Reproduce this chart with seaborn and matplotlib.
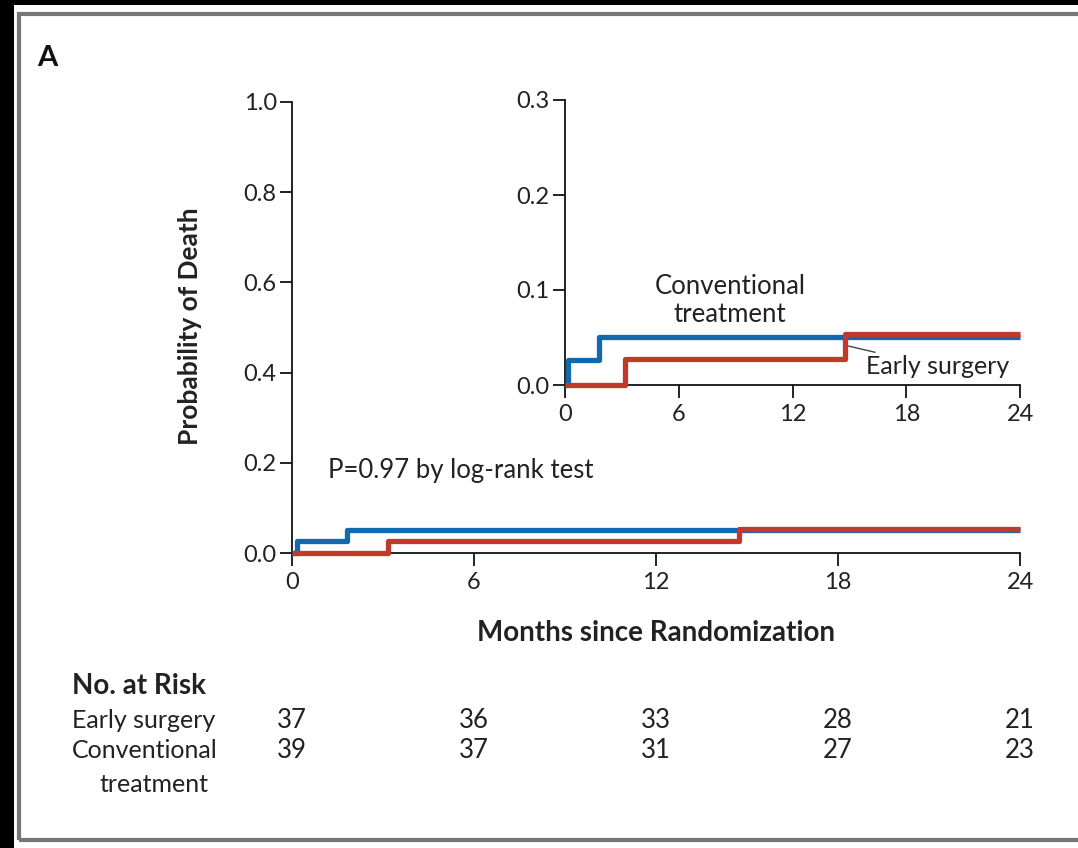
import numpy as np
import pandas as pd
import seaborn as sns
import matplotlib.pyplot as plt
from matplotlib.patches import Rectangle
from matplotlib.transforms import blended_transform_factory

sns.set_theme(style="ticks", context="paper")
plt.rcParams["font.family"] = ["Lato", "DejaVu Sans"]

# cumulative probability of death (step curves)
months_early = [0, 3.15, 14.75, 24]
prob_early = [0, 0.027, 0.054, 0.054]
months_conv = [0, 0.15, 1.8, 24]
prob_conv = [0, 0.026, 0.051, 0.051]

# numbers at risk
risk_months = [0, 6, 12, 18, 24]
risk_early = [37, 36, 33, 28, 21]
risk_conv = [39, 37, 31, 27, 23]

df = pd.concat([
    pd.DataFrame({"month": months_early, "prob": prob_early, "group": "Early surgery"}),
    pd.DataFrame({"month": months_conv, "prob": prob_conv, "group": "Conventional treatment"}),
])
palette = {"Early surgery": "#c0392b", "Conventional treatment": "#1369b0"}

W, H = 1078, 848
fig = plt.figure(figsize=(W / 100, H / 100), dpi=100, facecolor="black")
fig.patches.append(Rectangle((14 / W, 0), 1, (H - 5) / H, transform=fig.transFigure,
                             facecolor="white", edgecolor="none", zorder=-2))
fig.patches.append(Rectangle((19 / W, 8 / H), 1.1, (H - 22) / H, transform=fig.transFigure,
                             facecolor="none", edgecolor="#777777", lw=3, zorder=-1))

text_col = "#222222"


def style_axis(ax, ylim, yticks):
    ax.set_xlim(0, 24)
    ax.set_ylim(*ylim)
    ax.set_xticks([0, 6, 12, 18, 24])
    ax.set_yticks(yticks)
    ax.set_yticklabels([f"{v:.1f}" for v in yticks])
    sns.despine(ax=ax)
    ax.set_facecolor("none")
    for s in ["left", "bottom"]:
        ax.spines[s].set_linewidth(1.3)
        ax.spines[s].set_color("#111111")
    ax.tick_params(axis="both", length=9, width=1.3, color="#111111",
                   labelsize=17, labelcolor=text_col, pad=2)
    ax.tick_params(axis="x", pad=5)
    ax.set_xlabel("")
    ax.set_ylabel("")


def draw_curves(ax):
    sns.lineplot(data=df, x="month", y="prob", hue="group", palette=palette,
                 hue_order=["Conventional treatment", "Early surgery"],
                 drawstyle="steps-post", estimator=None, linewidth=3.8,
                 legend=False, ax=ax)
    for ln in ax.lines:
        ln.set_clip_on(False)
        ln.set_zorder(3)
        ln.set_solid_capstyle("butt")


# main axes
ax = fig.add_axes([292 / W, (H - 553) / H, 728 / W, 451 / H])
draw_curves(ax)
style_axis(ax, (0, 1.0), [0.0, 0.2, 0.4, 0.6, 0.8, 1.0])
ax.set_xlabel("Months since Randomization", fontsize=20, fontweight="bold",
              color=text_col)
ax.xaxis.set_label_coords(0.5, (553 - 633) / 451, transform=ax.transAxes)
ax.xaxis.label.set_va("center")
ax.set_ylabel("Probability of Death", fontsize=19, fontweight="bold", color=text_col)
ax.yaxis.set_label_coords((190 - 292) / 728, (553 - 326) / 451)
ax.yaxis.label.set_va("center")
ax.text(1.2, 0.184, "P=0.97 by log-rank test", fontsize=18.5, color=text_col, va="center")

# inset
axi = fig.add_axes([565 / W, (H - 385) / H, 455 / W, 285 / H])
draw_curves(axi)
style_axis(axi, (0, 0.3), [0.0, 0.1, 0.2, 0.3])
axi.text(8.7, 0.089, "Conventional\ntreatment", fontsize=18.5, color=text_col,
         ha="center", va="center", linespacing=1.15)
axi.annotate("Early surgery", xy=(14.95, 0.041), xytext=(15.9, 0.019),
             fontsize=18, color=text_col, ha="left", va="center",
             arrowprops=dict(arrowstyle="-", color="#444444", lw=1.0,
                             shrinkA=0, shrinkB=0))

# panel letter
fig.text(37 / W, 1 - 58 / H, "A", fontsize=21, fontweight="bold", color="#111111",
         va="center", ha="left")

# numbers at risk table
tr = blended_transform_factory(ax.transData, fig.transFigure)
fig.text(72 / W, 1 - 686 / H, "No. at Risk", fontsize=20, fontweight="bold",
         color=text_col, va="center")
fig.text(72 / W, 1 - 720 / H, "Early surgery", fontsize=18, color=text_col, va="center")
fig.text(72 / W, 1 - 751 / H, "Conventional", fontsize=18, color=text_col, va="center")
fig.text(100 / W, 1 - 784 / H, "treatment", fontsize=18, color=text_col, va="center")
for m, e, c in zip(risk_months, risk_early, risk_conv):
    fig.text(m, 1 - 720 / H, str(e), transform=tr, fontsize=18.5, color=text_col,
             ha="center", va="center")
    fig.text(m, 1 - 751 / H, str(c), transform=tr, fontsize=18.5, color=text_col,
             ha="center", va="center")

fig.savefig("out.png", dpi=100, facecolor=fig.get_facecolor())
